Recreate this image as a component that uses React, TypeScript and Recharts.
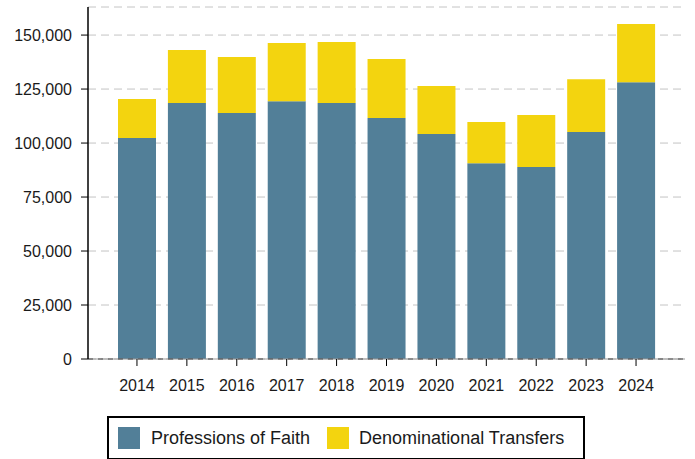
import { BarChart, Bar, XAxis, YAxis, CartesianGrid, ReferenceLine } from 'recharts';

const years = ['2014', '2015', '2016', '2017', '2018', '2019', '2020', '2021', '2022', '2023', '2024'];
const professions = [102300, 118500, 113900, 119400, 118500, 111600, 104200, 90700, 88900, 105100, 128200];
const transfers = [18100, 24600, 25900, 26900, 28300, 27300, 22200, 19000, 24100, 24500, 26900];
const yTicks = [0, 25000, 50000, 75000, 100000, 125000, 150000];

const BLUE = '#527f98';
const YELLOW = '#f3d40f';

const data = years.map((year, i) => ({
  year,
  professions: professions[i],
  transfers: transfers[i],
}));

const fmt = (v: number) => v.toLocaleString('en-US');

export default function App() {
  return (
    <div style={{ position: 'relative', width: 695, height: 459, fontFamily: 'Liberation Sans, Arial, sans-serif' }}>
      <style>{'body{margin:0}'}</style>
      <BarChart
        width={695}
        height={459}
        data={data}
        margin={{ top: 7, right: 10, left: 0, bottom: 0 }}
      >
        <CartesianGrid vertical={false} strokeDasharray="8 5" stroke="#c4c4c4" />
        <XAxis
          dataKey="year"
          padding={{ left: 24, right: 24 }}
          tick={{ fontSize: 16, fill: '#1a1a1a' }}
          tickSize={7}
          tickMargin={14}
          tickLine={{ stroke: '#000' }}
          axisLine={{ stroke: '#999' }}
          height={100}
        />
        <YAxis
          width={88}
          domain={[0, 163000]}
          ticks={yTicks}
          tickFormatter={fmt}
          tick={{ fontSize: 16, fill: '#1a1a1a' }}
          tickSize={7}
          tickMargin={9}
          tickLine={{ stroke: '#000' }}
          axisLine={{ stroke: '#000', strokeWidth: 1.5 }}
          allowDataOverflow
        />
        <ReferenceLine y={0} stroke="#000" strokeDasharray="5 5" />
        <Bar dataKey="professions" stackId="a" fill={BLUE} barSize={38} isAnimationActive={false} name="Professions of Faith" />
        <Bar dataKey="transfers" stackId="a" fill={YELLOW} barSize={38} isAnimationActive={false} name="Denominational Transfers" />
      </BarChart>
      <div
        style={{
          position: 'absolute',
          left: 107,
          top: 416,
          width: 474,
          height: 40,
          border: '2px solid #000',
          display: 'flex',
          alignItems: 'center',
          fontSize: 18,
          color: '#1a1a1a',
          boxSizing: 'content-box',
        }}
      >
        <span style={{ display: 'inline-block', width: 22, height: 22, background: BLUE, marginLeft: 9 }} />
        <span style={{ marginLeft: 11 }}>Professions of Faith</span>
        <span style={{ display: 'inline-block', width: 22, height: 22, background: YELLOW, marginLeft: 17 }} />
        <span style={{ marginLeft: 10 }}>Denominational Transfers</span>
      </div>
    </div>
  );
}
